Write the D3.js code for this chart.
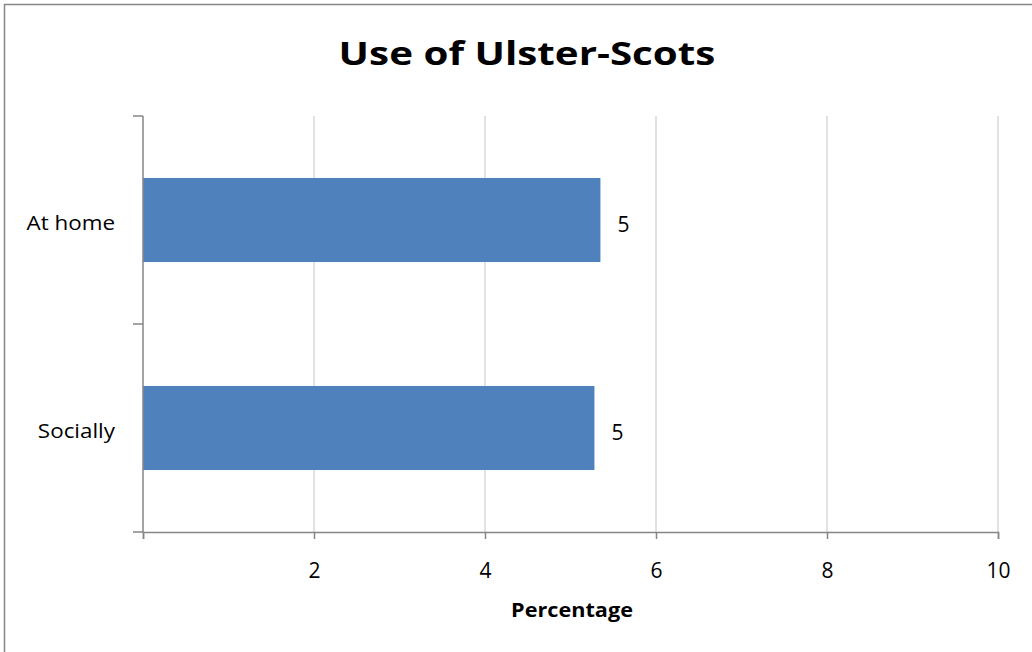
<!DOCTYPE html>
<html>
<head>
<meta charset="utf-8">
<script src="https://cdn.jsdelivr.net/npm/d3@7"></script>
<style>
  html, body { margin: 0; padding: 0; background: #fff; }
  svg { display: block; }
  text { font-family: "Open Sans", Lato, sans-serif; fill: #000; }
</style>
</head>
<body>
<svg id="chart" width="1032" height="652"></svg>
<script>
// Share of respondents using Ulster-Scots, by setting
const categories = ["At home", "Socially"];
const values = [5.35, 5.28];
const xTicks = [0, 2, 4, 6, 8, 10];
const title = "Use of Ulster-Scots";
const xTitle = "Percentage";

const svg = d3.select("#chart");
const W = 1032, H = 652;
const plot = { left: 143, right: 998, top: 116, bottom: 532 };

// outer chart frame (runs past the right and bottom edges)
svg.append("rect")
  .attr("x", 4.5).attr("y", 4.5)
  .attr("width", W + 20).attr("height", H + 20)
  .attr("fill", "#fff").attr("stroke", "#868686").attr("stroke-width", 1.5);

const x = d3.scaleLinear().domain([0, 10]).range([plot.left, plot.right]);
const y = d3.scaleBand().domain(categories)
  .range([plot.top, plot.bottom])
  .paddingInner(0.596).paddingOuter(0.298);

// widen a text selection horizontally by a constant factor
function widen(sel, k) {
  sel.each(function () {
    const len = this.getComputedTextLength();
    d3.select(this).attr("textLength", len * k).attr("lengthAdjust", "spacingAndGlyphs");
  });
}

// vertical gridlines
svg.append("g").selectAll("line")
  .data(xTicks.filter(d => d > 0))
  .join("line")
  .attr("x1", d => x(d)).attr("x2", d => x(d))
  .attr("y1", plot.top).attr("y2", plot.bottom)
  .attr("stroke", "#d9d9d9").attr("stroke-width", 1.5);

// bars
svg.append("g").selectAll("rect")
  .data(categories)
  .join("rect")
  .attr("x", x(0))
  .attr("y", d => y(d))
  .attr("width", (d, i) => x(values[i]) - x(0))
  .attr("height", y.bandwidth())
  .attr("fill", "#4f81bd");

// value labels
const fmt = d3.format(".0f");
svg.append("g").selectAll("text")
  .data(categories)
  .join("text")
  .attr("x", (d, i) => x(values[i]) + 17)
  .attr("y", d => y(d) + y.bandwidth() / 2 + 12)
  .attr("font-size", 21)
  .text((d, i) => fmt(values[i]));

// x axis
const xAxis = d3.axisBottom(x)
  .tickValues(xTicks)
  .tickFormat(d => d === 0 ? "" : d)
  .tickSize(7).tickPadding(24);
const gx = svg.append("g")
  .attr("transform", `translate(0,${plot.bottom})`)
  .call(xAxis);
gx.select(".domain").attr("stroke", "#868686").attr("stroke-width", 1.5);
gx.selectAll(".tick line").attr("stroke", "#868686").attr("stroke-width", 1.5);
gx.selectAll(".tick text")
  .attr("font-size", 21)
  .attr("font-family", "'Open Sans', Lato, sans-serif")
  .attr("fill", "#000");

// y axis: ticks at band boundaries, labels at band centres
const boundaries = d3.range(categories.length + 1)
  .map(i => plot.top + i * (plot.bottom - plot.top) / categories.length);
svg.append("line")
  .attr("x1", plot.left).attr("x2", plot.left)
  .attr("y1", plot.top).attr("y2", plot.bottom)
  .attr("stroke", "#868686").attr("stroke-width", 1.5);
svg.append("g").selectAll("line")
  .data(boundaries)
  .join("line")
  .attr("x1", plot.left - 10).attr("x2", plot.left)
  .attr("y1", d => d).attr("y2", d => d)
  .attr("stroke", "#868686").attr("stroke-width", 1.5);
svg.append("g").selectAll("text")
  .data(categories)
  .join("text")
  .attr("x", 115)
  .attr("y", d => y(d) + y.bandwidth() / 2 + 9.5)
  .attr("text-anchor", "end")
  .attr("font-size", 20)
  .text(d => d)
  .call(widen, 1.12);

// titles
svg.append("text")
  .attr("x", 527).attr("y", 65)
  .attr("text-anchor", "middle")
  .attr("font-size", 32).attr("font-weight", "bold")
  .text(title)
  .call(widen, 1.26);

svg.append("text")
  .attr("x", 572).attr("y", 617)
  .attr("text-anchor", "middle")
  .attr("font-size", 19).attr("font-weight", "bold")
  .text(xTitle)
  .call(widen, 1.14);
</script>
</body>
</html>
